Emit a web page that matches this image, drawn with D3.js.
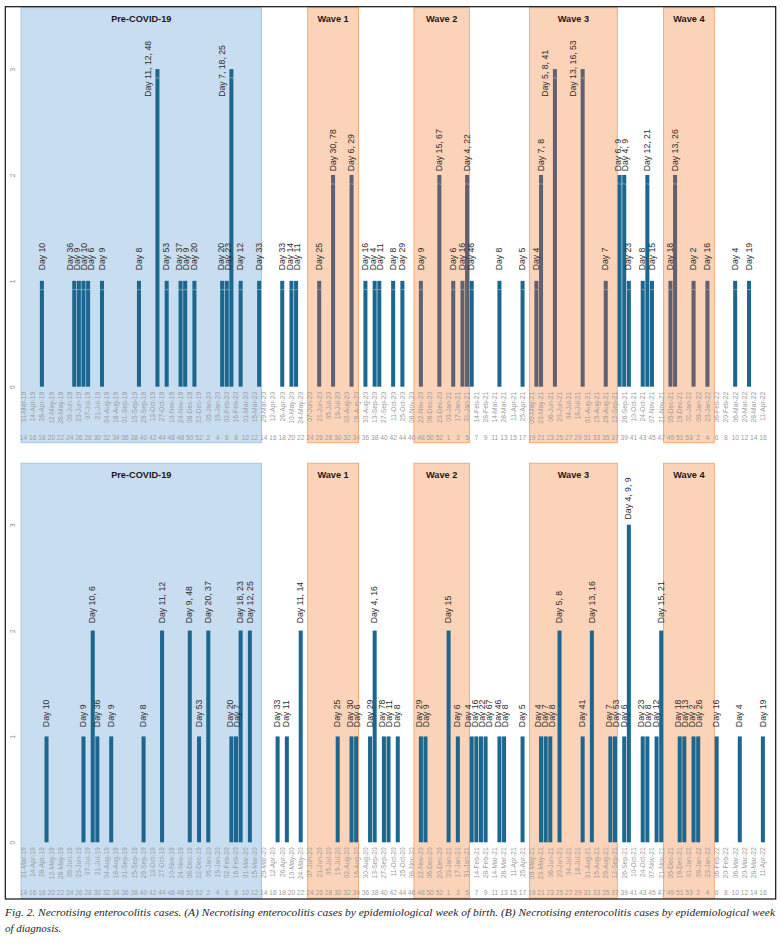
<!DOCTYPE html>
<html>
<head>
<meta charset="utf-8">
<script src="https://cdn.jsdelivr.net/npm/d3@7"></script>
<style>
    body { margin: 0; background: #fff; }
    svg { display: block; }
</style>
</head>
<body>
<svg id="chart" width="782" height="945"></svg>
<script>
// Epidemiological weeks on the category axis: [year, first week, last week].
const YEAR_WEEKS = [[2019, 14, 52], [2020, 1, 53], [2021, 1, 53], [2022, 1, 16]];

// Every other week carries a tick label.
const DATE_TICKS = [
    "31-Mar-19", "14-Apr-19", "28-Apr-19", "12-May-19", "26-May-19", "09-Jun-19", "23-Jun-19",
    "07-Jul-19", "21-Jul-19", "04-Aug-19", "18-Aug-19", "01-Sep-19", "15-Sep-19", "29-Sep-19",
    "13-Oct-19", "27-Oct-19", "10-Nov-19", "24-Nov-19", "08-Dec-19", "22-Dec-19", "05-Jan-20",
    "19-Jan-20", "02-Feb-20", "16-Feb-20", "01-Mar-20", "15-Mar-20", "29-Mar-20", "12-Apr-20",
    "26-Apr-20", "10-May-20", "24-May-20", "07-Jun-20", "21-Jun-20", "05-Jul-20", "19-Jul-20",
    "02-Aug-20", "16-Aug-20", "30-Aug-20", "13-Sep-20", "27-Sep-20", "11-Oct-20", "25-Oct-20",
    "08-Nov-20", "22-Nov-20", "06-Dec-20", "20-Dec-20", "03-Jan-21", "17-Jan-21", "31-Jan-21",
    "14-Feb-21", "28-Feb-21", "14-Mar-21", "28-Mar-21", "11-Apr-21", "25-Apr-21", "09-May-21",
    "23-May-21", "06-Jun-21", "20-Jun-21", "04-Jul-21", "18-Jul-21", "01-Aug-21", "15-Aug-21",
    "29-Aug-21", "12-Sep-21", "26-Sep-21", "10-Oct-21", "24-Oct-21", "07-Nov-21", "21-Nov-21",
    "05-Dec-21", "19-Dec-21", "01-Jan-22", "09-Jan-22", "23-Jan-22", "06-Feb-22", "20-Feb-22",
    "06-Mar-22", "20-Mar-22", "28-Mar-22", "11-Apr-22"
];
const WEEK_TICKS = [
    "14", "16", "18", "20", "22", "24", "26", "28", "30", "32", "34", "36", "38", "40", "42", "44",
    "46", "48", "50", "52", "2", "4", "6", "8", "10", "12", "14", "16", "18", "20", "22", "24", "26",
    "28", "30", "32", "34", "36", "38", "40", "42", "44", "46", "48", "50", "52", "1", "3", "5", "7",
    "9", "11", "13", "15", "17", "19", "21", "23", "25", "27", "29", "31", "33", "35", "37", "39",
    "41", "43", "45", "47", "49", "51", "53", "2", "4", "6", "8", "10", "12", "14", "16"
];
const Y_TICKS = [0, 1, 2, 3];

// Shaded periods.
const PERIOD_NAMES = ["Pre-COVID-19", "Wave 1", "Wave 2", "Wave 3", "Wave 4"];
const PERIOD_FROM = ["2019-14", "2020-24", "2020-47", "2021-19", "2021-48"];
const PERIOD_TO = ["2020-13", "2020-34", "2021-5", "2021-37", "2022-5"];

// (A) cases by epidemiological week of birth.
const BIRTH_WEEKS = [
    "2019-18", "2019-25", "2019-26", "2019-27", "2019-28", "2019-31", "2019-39", "2019-43",
    "2019-45", "2019-48", "2019-49", "2019-51",
    "2020-5", "2020-6", "2020-7", "2020-9", "2020-13", "2020-18", "2020-20", "2020-21", "2020-26",
    "2020-29", "2020-33", "2020-36", "2020-38", "2020-39", "2020-42", "2020-44", "2020-48", "2020-52",
    "2021-2", "2021-4", "2021-5", "2021-6", "2021-12", "2021-17", "2021-20", "2021-21", "2021-24",
    "2021-30", "2021-35", "2021-38", "2021-39", "2021-40", "2021-43", "2021-44", "2021-45",
    "2021-49", "2021-50",
    "2022-1", "2022-4", "2022-10", "2022-13"
];
const BIRTH_CASES = [
    1, 1, 1, 1, 1, 1, 1, 3, 1, 1, 1, 1,
    1, 1, 3, 1, 1, 1, 1, 1, 1, 2, 2, 1, 1, 1, 1, 1, 1, 2,
    1, 1, 2, 1, 1, 1, 1, 2, 3, 3, 1, 2, 2, 1, 1, 2, 1, 1, 2,
    1, 1, 1, 1
];
const BIRTH_DAYS = [
    "Day 10", "Day 36", "Day 9", "Day 10", "Day 6", "Day 9", "Day 8", "Day 11, 12, 48", "Day 53",
    "Day 37", "Day 9", "Day 20",
    "Day 20", "Day 23", "Day 7, 18, 25", "Day 12", "Day 33", "Day 33", "Day 14", "Day 11", "Day 25",
    "Day 30, 78", "Day 6, 29", "Day 16", "Day 4", "Day 11", "Day 8", "Day 29", "Day 9", "Day 15, 67",
    "Day 6", "Day 16", "Day 4, 22", "Day 46", "Day 8", "Day 5", "Day 4", "Day 7, 8", "Day 5, 8, 41",
    "Day 13, 16, 53", "Day 7", "Day 6, 9", "Day 4, 9", "Day 23", "Day 8", "Day 12, 21", "Day 15",
    "Day 18", "Day 13, 26",
    "Day 2", "Day 16", "Day 4", "Day 19"
];

// (B) cases by epidemiological week of diagnosis.
const DIAG_WEEKS = [
    "2019-19", "2019-27", "2019-29", "2019-30", "2019-33", "2019-40", "2019-44", "2019-50", "2019-52",
    "2020-2", "2020-7", "2020-8", "2020-9", "2020-11", "2020-17", "2020-19", "2020-22", "2020-30",
    "2020-33", "2020-34", "2020-37", "2020-38", "2020-40", "2020-41", "2020-43", "2020-48", "2020-49",
    "2021-1", "2021-3", "2021-6", "2021-7", "2021-8", "2021-9", "2021-12", "2021-13", "2021-17",
    "2021-21", "2021-22", "2021-23", "2021-25", "2021-30", "2021-32", "2021-36", "2021-37", "2021-39",
    "2021-40", "2021-43", "2021-44", "2021-46", "2021-47", "2021-51", "2021-52",
    "2022-1", "2022-2", "2022-6", "2022-11", "2022-16"
];
const DIAG_CASES = [
    1, 1, 2, 1, 1, 1, 2, 2, 1,
    2, 1, 1, 2, 2, 1, 1, 2, 1, 1, 1, 1, 2, 1, 1, 1, 1, 1,
    2, 1, 1, 1, 1, 1, 1, 1, 1, 1, 1, 1, 2, 1, 2, 1, 1, 1, 3, 1, 1, 1, 2, 1, 1,
    1, 1, 1, 1, 1
];
const DIAG_DAYS = [
    "Day 10", "Day 9", "Day 10, 6", "Day 36", "Day 9", "Day 8", "Day 11, 12", "Day 9, 48", "Day 53",
    "Day 20, 37", "Day 20", "Day 7", "Day 18, 23", "Day 12, 25", "Day 33", "Day 11", "Day 11, 14",
    "Day 25", "Day 30", "Day 6", "Day 29", "Day 4, 16", "Day 78", "Day 11", "Day 8", "Day 29", "Day 9",
    "Day 15", "Day 6", "Day 4", "Day 16", "Day 22", "Day 67", "Day 46", "Day 8", "Day 5", "Day 4",
    "Day 7", "Day 8", "Day 5, 8", "Day 41", "Day 13, 16", "Day 7", "Day 53", "Day 6", "Day 4, 9, 9",
    "Day 23", "Day 8", "Day 12", "Day 15, 21", "Day 18", "Day 13",
    "Day 2", "Day 26", "Day 16", "Day 4", "Day 19"
];

const CAPTION_1 = "Fig. 2. Necrotising enterocolitis cases. (A) Necrotising enterocolitis cases by epidemiological week of birth. (B) Necrotising enterocolitis cases by epidemiological week";
const CAPTION_2 = "of diagnosis.";

// Layout.
const FONT = "'Liberation Sans', Arial, sans-serif";
const PLOT_LEFT = 21.1;
const PLOT_RIGHT = 765.2;
const Y_MAX = 3.58;
const LABEL_SPACING = 7;
const SIDE_OFFSET = -9.5;
const BAR_COLOR = "#1b678f";
const BAR_IN_WAVE = "#5f6071";

const PANELS = [
    {
        weeks: BIRTH_WEEKS, cases: BIRTH_CASES, days: BIRTH_DAYS,
        top: 7.7, zero: 386.7, bottom: 442.7,
        gaps: { 1: 10.5, 2: 3.7 }, greyInWaves: true, countLabels: true
    },
    {
        weeks: DIAG_WEEKS, cases: DIAG_CASES, days: DIAG_DAYS,
        top: 463.3, zero: 842.3, bottom: 898.3,
        gaps: { 1: 9.3, 2: 7.3, 3: 5.3 }, greyInWaves: false, countLabels: false
    }
];

const svg = d3.select("#chart");

const categories = [];
YEAR_WEEKS.forEach(([year, first, last]) => {
    for (let w = first; w <= last; w++) {
        categories.push(`${year}-${w}`);
    }
});
const tickWeeks = categories.filter((d, i) => i % 2 === 0);

const x = d3.scaleBand()
    .domain(categories)
    .range([PLOT_LEFT, PLOT_RIGHT])
    .paddingInner(0.13)
    .paddingOuter(0.065);
const gutter = (x.step() - x.bandwidth()) / 2;

const periods = PERIOD_NAMES.map((name, i) => ({
    name: name,
    pre: i === 0,
    x0: x(PERIOD_FROM[i]) - gutter,
    x1: x(PERIOD_TO[i]) + x.bandwidth() + gutter,
    from: categories.indexOf(PERIOD_FROM[i]),
    to: categories.indexOf(PERIOD_TO[i])
}));

function inWave(week) {
    let idx = categories.indexOf(week);
    return periods.some(p => !p.pre && idx >= p.from && idx <= p.to);
}

// Push apart labels of the same height so they don't sit on top of each other.
function spreadLabels(items) {
    d3.groups(items, d => d.cases).forEach(([, group]) => {
        group.sort((a, b) => a.lx - b.lx);
        for (let k = 0; k < 80; k++) {
            for (let i = 1; i < group.length; i++) {
                let overlap = LABEL_SPACING - (group[i].lx - group[i - 1].lx);
                if (overlap > 0) {
                    group[i - 1].lx -= overlap / 2;
                    group[i].lx += overlap / 2;
                }
            }
        }
    });
}

function drawPanel(p) {
    let y = d3.scaleLinear().domain([0, Y_MAX]).range([p.zero, p.top]);
    let g = svg.append("g");

    // Shaded periods.
    g.selectAll("rect.period")
        .data(periods)
        .join("rect")
        .classed("period", true)
        .attr("x", d => d.x0)
        .attr("width", d => d.x1 - d.x0)
        .attr("y", p.top)
        .attr("height", p.bottom - p.top)
        .attr("fill", d => d.pre ? "#c9ddf0" : "#fbd3b8")
        .attr("stroke", d => d.pre ? "#a5c7e7" : "#f5ab7a")
        .attr("stroke-width", 1);

    g.selectAll("text.period")
        .data(periods)
        .join("text")
        .classed("period", true)
        .attr("x", d => (d.x0 + d.x1) / 2)
        .attr("y", p.top + 14.5)
        .attr("text-anchor", "middle")
        .attr("font-family", FONT)
        .attr("font-size", 9.2)
        .attr("font-weight", "bold")
        .attr("fill", "#1a1a1a")
        .text(d => d.name);

    // Y axis: rotated tick labels only.
    g.append("g")
        .attr("transform", `translate(${PLOT_LEFT},0)`)
        .call(d3.axisLeft(y).tickValues(Y_TICKS).tickSize(0).tickFormat(d3.format("d")))
        .call(a => a.select(".domain").remove())
        .selectAll("text")
        .attr("transform", "rotate(-90)")
        .attr("x", 0)
        .attr("y", -8)
        .attr("dy", "0.35em")
        .attr("text-anchor", "middle")
        .attr("font-family", FONT)
        .attr("font-size", 6.5)
        .attr("fill", "#8a8a8a");

    // Date ticks.
    g.append("g")
        .attr("transform", `translate(0,${p.zero})`)
        .call(d3.axisBottom(x).tickValues(tickWeeks).tickSize(0)
            .tickFormat((d, i) => DATE_TICKS[i]))
        .call(a => a.select(".domain").remove())
        .selectAll("text")
        .attr("transform", "rotate(-90)")
        .attr("x", -5)
        .attr("y", 0)
        .attr("dy", "0.35em")
        .attr("text-anchor", "end")
        .attr("font-family", FONT)
        .attr("font-size", 6.7)
        .attr("fill", "#9d9d9d");

    // Week number ticks.
    g.append("g")
        .attr("transform", `translate(0,${p.zero + 53})`)
        .call(d3.axisBottom(x).tickValues(tickWeeks).tickSize(0)
            .tickFormat((d, i) => WEEK_TICKS[i]))
        .call(a => a.select(".domain").remove())
        .selectAll("text")
        .attr("y", 0)
        .attr("dy", 0)
        .attr("font-family", FONT)
        .attr("font-size", 6.7)
        .attr("fill", "#9d9d9d");

    // Bars.
    let bars = p.weeks.map((week, i) => ({ week: week, cases: p.cases[i], label: p.days[i] }));

    g.selectAll("rect.bar")
        .data(bars)
        .join("rect")
        .classed("bar", true)
        .attr("x", d => x(d.week))
        .attr("width", x.bandwidth())
        .attr("y", d => y(d.cases))
        .attr("height", d => p.zero - y(d.cases))
        .attr("fill", d => p.greyInWaves && inWave(d.week) ? BAR_IN_WAVE : BAR_COLOR);

    if (p.countLabels) {
        g.selectAll("text.count")
            .data(bars)
            .join("text")
            .classed("count", true)
            .attr("transform", d => `translate(${x(d.week) + x.bandwidth() / 2},${y(d.cases) + 9}) rotate(-90)`)
            .attr("dy", "0.35em")
            .attr("text-anchor", "middle")
            .attr("font-family", FONT)
            .attr("font-size", 5)
            .attr("fill", "#a9adb5")
            .text(d => d.cases);
    }

    // "Day" labels above the bars (or beside, when there's no room above).
    bars.forEach(d => {
        d.lx = x(d.week) + x.bandwidth() / 2;
        if (p.gaps[d.cases] === undefined) {
            d.lx += SIDE_OFFSET;
            d.ly = y(d.cases) + 27.7;
        } else {
            d.ly = y(d.cases) - p.gaps[d.cases];
        }
    });
    spreadLabels(bars);

    g.selectAll("text.day")
        .data(bars)
        .join("text")
        .classed("day", true)
        .attr("transform", d => `translate(${d.lx},${d.ly}) rotate(-90)`)
        .attr("dy", "0.3em")
        .attr("font-family", FONT)
        .attr("font-size", 8.7)
        .attr("fill", "#2e2e2e")
        .text(d => d.label);
}

PANELS.forEach(drawPanel);

// Outer frame.
svg.append("rect")
    .attr("x", 5.3)
    .attr("y", 6.7)
    .attr("width", 770.4)
    .attr("height", 892.3)
    .attr("fill", "none")
    .attr("stroke", "#111")
    .attr("stroke-width", 1.2);

// Caption.
svg.append("text")
    .attr("x", 5)
    .attr("y", 915.5)
    .attr("font-family", "'Liberation Serif', 'Times New Roman', serif")
    .attr("font-style", "italic")
    .attr("font-size", 11)
    .attr("fill", "#1e1e1e")
    .attr("textLength", 770)
    .attr("lengthAdjust", "spacingAndGlyphs")
    .text(CAPTION_1);

svg.append("text")
    .attr("x", 5)
    .attr("y", 932)
    .attr("font-family", "'Liberation Serif', 'Times New Roman', serif")
    .attr("font-style", "italic")
    .attr("font-size", 11)
    .attr("fill", "#1e1e1e")
    .text(CAPTION_2);
</script>
</body>
</html>
